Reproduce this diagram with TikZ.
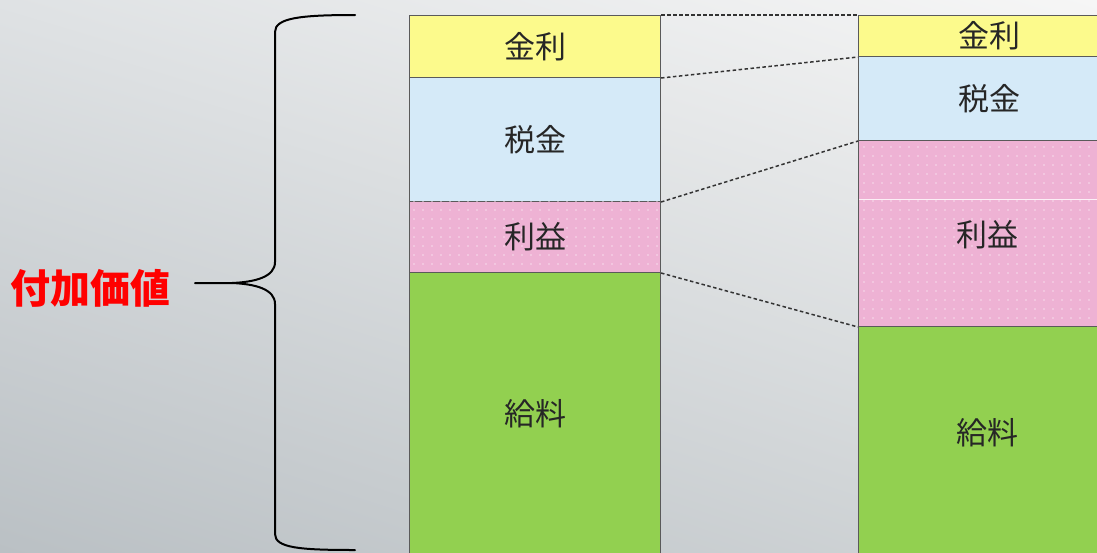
\documentclass[tikz,border=0pt]{standalone}
\usepackage{fontspec}
\newfontfamily\cjk{Noto Sans CJK JP}
\usetikzlibrary{patterns.meta,shadings}
\definecolor{yel}{HTML}{FCFA8C}
\definecolor{blu}{HTML}{D5EAF8}
\definecolor{pnk}{HTML}{EEB2D4}
\definecolor{grn}{HTML}{92D050}
\definecolor{segline}{HTML}{5A5A5A}
\definecolor{conncol}{HTML}{333333}
\definecolor{bgUL}{HTML}{DFE2E4}
\definecolor{bgUR}{HTML}{F6F6F6}
\definecolor{bgLL}{HTML}{BAC0C4}
\definecolor{bgLR}{HTML}{D2D6D8}
\tikzset{
  seg/.style={draw=segline, line width=1pt, rectangle, inner sep=0pt, anchor=north west,
    font=\cjk\fontsize{31}{31}\selectfont, text=black!85},
  dotted pink/.style={fill=pnk, postaction={pattern={Dots[radius=0.8pt,distance=9pt]}, pattern color=white!55!pnk}},
  conn/.style={draw=conncol, line width=1.5pt, dash pattern=on 3.5pt off 2.5pt},
  bracestyle/.style={draw=black, line width=2pt, line cap=round, line join=round}
}
\begin{document}
\begin{tikzpicture}[x=1pt,y=-1pt]
\useasboundingbox (0,0) rectangle (1097,552);
\begin{scope}
\clip (0,0) rectangle (1097,552);
\shade[upper left=bgUL, upper right=bgUR, lower left=bgLL, lower right=bgLR] (0,0) rectangle (1097,552);

% left column
\node[seg, fill=yel, minimum width=251pt, minimum height=62pt] (L1) at (409,15) {金利};
\node[seg, fill=blu, minimum width=251pt, minimum height=124pt] (L2) at (409,77) {税金};
\node[seg, dotted pink, minimum width=251pt, minimum height=71pt] (L3) at (409,201) {利益};
\node[seg, fill=grn, minimum width=251pt, minimum height=282pt] (L4) at (409,272) {給料};

% right column
\node[seg, fill=yel, minimum width=262pt, minimum height=41pt] (R1) at (858,15) {金利};
\node[seg, fill=blu, minimum width=262pt, minimum height=84pt] (R2) at (858,56) {税金};
\node[seg, dotted pink, minimum width=262pt, minimum height=186pt] (R3) at (858,140) {};
\node[seg, fill=grn, minimum width=262pt, minimum height=240pt] (R4) at (858,326) {};
\draw[white!80!pnk, line width=1pt] ([xshift=1pt]R3.west |- 0,199) coordinate (w1) -- (R3.east |- w1);
\node[font=\cjk\fontsize{31}{31}\selectfont, text=black!85] (R3t) at (987,235) {利益};
\node[font=\cjk\fontsize{31}{31}\selectfont, text=black!85] (R4t) at (987,433) {給料};

% connectors
\draw[conn] (L1.north east) -- (R1.north west);
\draw[conn] (L1.south east) -- (R1.south west);
\draw[conn] (L2.south east) -- (R2.south west);
\draw[conn] (L3.south east) -- (R3.south west);

% label and brace
\node[font=\cjk\bfseries\fontsize{40}{40}\selectfont, text=red, inner sep=0pt] (va) at (90,288) {付加価値};
\coordinate (btop) at (355,15);
\coordinate (bbot) at (355,550);
\coordinate (btip) at (195,283);
\draw[bracestyle] (btop) .. controls (300,15) and (275,18) .. (275,32) -- (275,262)
   .. controls (275,277) and (255,282) .. (232,283) -- (btip);
\draw[bracestyle] (232,283) .. controls (255,284) and (275,289) .. (275,304) -- (275,534)
   .. controls (275,548) and (300,550) .. (bbot);
\end{scope}
\end{tikzpicture}
\end{document}
